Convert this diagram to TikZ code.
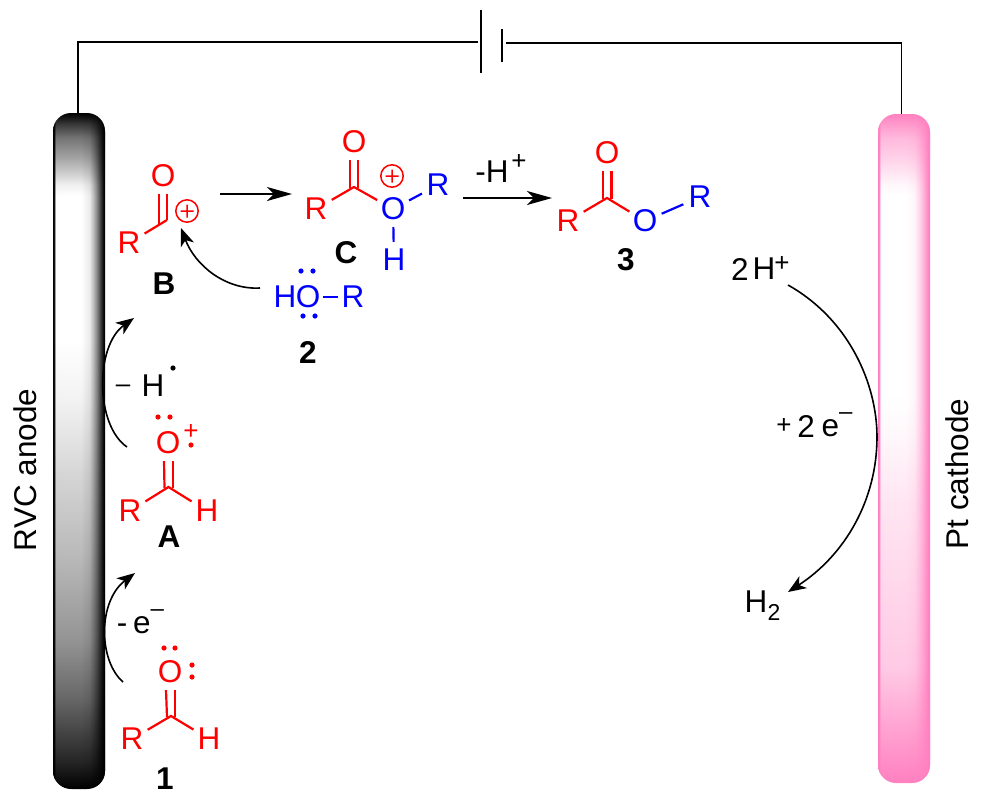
\documentclass[tikz,border=0pt]{standalone}
\usepackage{fontspec}
\setmainfont{Liberation Sans}
\usetikzlibrary{arrows.meta,fadings}
\definecolor{pk}{RGB}{255,128,192}
\definecolor{rd}{RGB}{255,0,0}
\definecolor{bl}{RGB}{0,0,255}
\pgfdeclareverticalshading{rodk}{100bp}{color(0bp)=(black); color(25bp)=(black); color(27.1bp)=(black!85); color(31.6bp)=(black!60); color(36bp)=(black!42); color(41.9bp)=(black!28); color(47.9bp)=(black!17); color(53.8bp)=(black!5); color(58.2bp)=(white); color(68.9bp)=(white); color(69.7bp)=(black!6); color(70.6bp)=(black!20); color(71.7bp)=(black!36); color(73.2bp)=(black!55); color(74.1bp)=(black!76); color(75bp)=(black); color(100bp)=(black)}
\pgfdeclareverticalshading{rodp}{100bp}{color(0bp)=(pk); color(25bp)=(pk); color(28.7bp)=(pk!75!white); color(33.6bp)=(pk!42!white); color(38.7bp)=(pk!33!white); color(46.1bp)=(pk!20!white); color(51.4bp)=(pk!5!white); color(54bp)=(white); color(68.9bp)=(white); color(69.7bp)=(pk!6!white); color(70.6bp)=(pk!20!white); color(71.7bp)=(pk!36!white); color(73.2bp)=(pk!55!white); color(74.1bp)=(pk!76!white); color(75bp)=(pk); color(100bp)=(pk)}
\pgfdeclarehorizontalshading{rodmask}{100bp}{color(0bp)=(white); color(25bp)=(white); color(26.4bp)=(black!10); color(27.4bp)=(black!95); color(28bp)=(black); color(52bp)=(black); color(60bp)=(black!92); color(64bp)=(black!72); color(67.5bp)=(black!50); color(71bp)=(black!22); color(73.5bp)=(black!2); color(75bp)=(white); color(100bp)=(white)}
\pgfdeclarefading{rodfade}{\pgfuseshading{rodmask}}
\newcommand{\fs}[1]{\fontsize{#1}{#1}\selectfont}
\newcommand{\lpd}[3]{\fill[#1] (#2,#3) circle (2.6);}
\newcommand{\cplus}[2]{\draw[rd,line width=1.5] (#1,#2) circle (11.2) (#1-6.5,#2) -- (#1+6.5,#2) (#1,#2-6.5) -- (#1,#2+6.5);}
\tikzset{
 atom/.style={circle,inner sep=0pt,minimum size=36pt,font=\fs{31.5}},
 ra/.style={atom,text=rd}, ba/.style={atom,text=bl},
 lab/.style={inner sep=0pt,font=\fs{31.5}\bfseries},
 txt/.style={inner sep=0pt,font=\fs{31.5}},
 sup/.style={inner sep=0pt,font=\fs{26}},
 rb/.style={draw=rd,line width=2.2pt},
 bb/.style={draw=bl,line width=2.2pt},
 wire/.style={draw=black,line width=1.5pt},
 arr/.style={draw=black,line width=1.7pt,-{Stealth[length=25pt,width=14pt,inset=7pt]}},
 carr/.style={draw=black,line width=1.6pt,-{Stealth[length=18pt,width=14pt,inset=5pt]}},
}
\begin{document}
\begin{tikzpicture}[x=1pt,y=-1pt]
\useasboundingbox (0,0) rectangle (985,809);
% electrodes
\shade[shading=rodk,rounded corners=18pt] (53,113) rectangle (105,789);
\fill[black,path fading=rodfade,rounded corners=18pt] (53,113) rectangle (105,789);
\shade[shading=rodp,rounded corners=18pt] (878,114) rectangle (930,783);
\fill[pk,path fading=rodfade,rounded corners=18pt] (878,114) rectangle (930,783);
\coordinate (atop) at (78,113);
\coordinate (ctop) at (901.5,114);
\coordinate (w1) at (78,42);
\coordinate (w2) at (478,42);
\coordinate (w3) at (506,43);
\coordinate (w4) at (901.5,43);
\coordinate (p1a) at (481,10);
\coordinate (p1b) at (481,73);
\coordinate (p2a) at (502,29);
\coordinate (p2b) at (502,62);
\draw[wire] (atop) -- (w1) -- (w2);
\draw[wire] (w3) -- (w4) -- (ctop);
\draw[wire,line width=1.8pt] (p1a) -- (p1b);
\draw[wire,line width=1.8pt] (p2a) -- (p2b);
\node[txt,rotate=90] (anode) at (25,470) {RVC anode};
\node[txt,rotate=90] (cathode) at (957,474) {Pt cathode};
% 1
\coordinate (c1) at (171,716);
\node[ra] (o1) at (170,672) {O};
\node[ra] (r1) at (132,739) {R};
\node[ra] (h1) at (209,739) {H};
\draw[rb] ([xshift=-4pt]o1.south) -- ([xshift=-4pt,yshift=-1pt]c1);
\draw[rb] ([xshift=5pt]o1.south) -- ([xshift=4pt,yshift=-1pt]c1);
\draw[rb] (r1) -- (c1) -- (h1);
\lpd{rd}{164}{648}\lpd{rd}{175}{648}\lpd{rd}{192}{665}\lpd{rd}{192}{677}
\node[lab] (n1) at (165,779) {1};
% A
\coordinate (c2) at (168.5,487);
\node[ra] (o2) at (168,443) {O};
\node[ra] (r2) at (130,511) {R};
\node[ra] (h2) at (207,511) {H};
\draw[rb] ([xshift=-4pt]o2.south) -- ([xshift=-4pt,yshift=-1pt]c2);
\draw[rb] ([xshift=5pt]o2.south) -- ([xshift=4.5pt,yshift=-1pt]c2);
\draw[rb] (r2) -- (c2) -- (h2);
\lpd{rd}{158}{417}\lpd{rd}{170}{417}\lpd{rd}{191}{445}
\node[sup,text=rd] (pa) at (191,432) {+};
\node[lab] (na) at (169,537) {A};
% B
\coordinate (c3) at (167,220);
\node[ra] (o3) at (163,176) {O};
\node[ra] (r3) at (129,243) {R};
\draw[rb] ([xshift=-4pt]o3.south) -- ([xshift=-8pt,yshift=-5pt]c3);
\draw[rb] ([xshift=4pt]o3.south) -- (c3);
\draw[rb] (r3) -- (c3);
\cplus{187}{211}
\node[lab] (nb) at (164,284) {B};
% 2
\node[ba] (h4) at (285,297) {H};
\node[ba] (o4) at (308,297) {O};
\node[ba] (r4) at (353,297) {R};
\draw[bb,shorten >=-3pt,shorten <=-3pt] (o4) -- (r4);
\lpd{bl}{301}{271}\lpd{bl}{313}{271}\lpd{bl}{303}{316}\lpd{bl}{315}{316}
\node[lab] (n2) at (308,352) {2};
% C
\coordinate (c5) at (354,187);
\node[ra] (o5) at (354,142) {O};
\node[ra] (r5) at (316,209) {R};
\node[ba] (o6) at (393,209) {O};
\node[ba] (r6) at (438,185) {R};
\node[ba] (h6) at (394,260) {H};
\draw[rb] ([xshift=-4pt]o5.south) -- ([xshift=-4pt,yshift=-1pt]c5);
\draw[rb] ([xshift=4pt]o5.south) -- ([xshift=4pt,yshift=-1pt]c5);
\draw[rb] (r5) -- (c5) -- (o6);
\draw[bb] (o6) -- (r6);
\draw[bb] (o6) -- (h6);
\cplus{392}{176}
\node[lab] (nc) at (346,253) {C};
% 3
\coordinate (c7) at (607,198);
\node[ra] (o7) at (607,153) {O};
\node[ra] (r7) at (568,221) {R};
\node[ba] (o8) at (645,221) {O};
\node[ba] (r8) at (700,197) {R};
\draw[rb] ([xshift=-4pt]o7.south) -- ([xshift=-4pt,yshift=-1pt]c7);
\draw[rb] ([xshift=4.5pt]o7.south) -- ([xshift=4.5pt,yshift=-1pt]c7);
\draw[rb] (r7) -- (c7) -- (o8);
\draw[bb] (o8) -- (r8);
\node[lab] (n3) at (626,260) {3};
% reaction arrows
\coordinate (a1s) at (220,194);
\coordinate (a1e) at (292,194);
\draw[arr] (a1s) -- (a1e);
\coordinate (a2s) at (463,198);
\coordinate (a2e) at (552,198);
\draw[arr] (a2s) -- (a2e);
\node[txt] (mh) at (492,172) {-H};
\node[sup] (mhp) at (519,162) {+};
\coordinate (a3s) at (260,288);
\coordinate (a3e) at (181,228);
\draw[carr] (a3s) .. controls (225,290) and (195,265) .. (a3e);
\coordinate (a4s) at (127,447);
\coordinate (a4e) at (134,318);
\draw[carr] (a4s) .. controls (95,425) and (95,346) .. (a4e);
\coordinate (a5s) at (123,682);
\coordinate (a5e) at (135,573);
\draw[carr] (a5s) .. controls (98,660) and (98,601) .. (a5e);
\node[txt] (mdash) at (122,629) {-};
\node[txt,anchor=base west] (e1) at (133,633) {e\raisebox{16.5pt}{\fs{24}–}};
\node[sup] (mh1) at (123,389) {–};
\node[txt] (h1r) at (153,386) {H};
\fill[black] (173,368) circle (2.6);
% cathode
\node[txt] (t2) at (740,269) {2};
\node[txt] (th) at (764,269) {H};
\node[sup] (thp) at (782,264) {+};
\coordinate (hs) at (788,285);
\coordinate (hm) at (877,437);
\coordinate (he) at (788,592);
\draw[carr] (hs) .. controls (850,320) and (877,385) .. (hm) .. controls (877,500) and (845,555) .. (he);
\node[sup] (pe) at (784,426) {+};
\node[txt] (te2) at (806,426) {2};
\node[txt,anchor=base west] (tee) at (821.5,436) {e\raisebox{16.5pt}{\fs{24}–}};
\node[txt] (h2h) at (756,602) {H};
\node[inner sep=0pt,font=\fs{23}] (h2s) at (774,612) {2};
\end{tikzpicture}
\end{document}
